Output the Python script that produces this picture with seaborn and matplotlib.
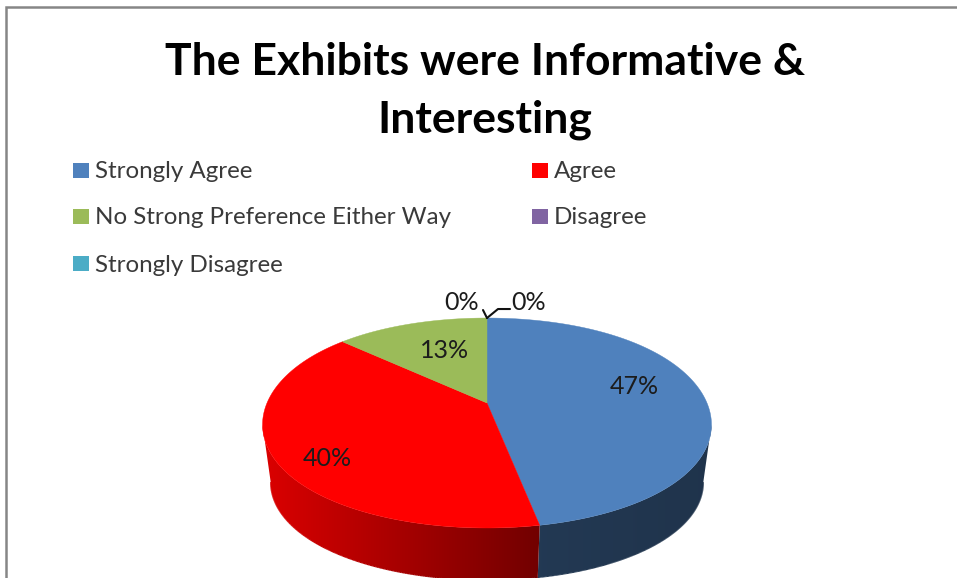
import numpy as np
import matplotlib
matplotlib.use("Agg")
import matplotlib.pyplot as plt
from matplotlib.collections import LineCollection
from matplotlib.patches import Polygon, Rectangle
import seaborn as sns

# Survey responses
categories = ["Strongly Agree", "Agree", "No Strong Preference Either Way",
              "Disagree", "Strongly Disagree"]
percent = [47, 40, 13, 0, 0]
colors = ["#4F81BD", "#FF0000", "#9BBB59", "#8064A2", "#4BACC6"]
title = "The Exhibits were Informative &\nInteresting"

sns.set_theme(style="white")
plt.rcParams["font.family"] = ["Lato", "DejaVu Sans"]
palette = sns.color_palette(colors)

W, H = 957, 578
fig = plt.figure(figsize=(W / 100, H / 100), dpi=100, facecolor="white")
ax = fig.add_axes([0, 0, 1, 1])
ax.set_xlim(0, W)
ax.set_ylim(H, 0)
ax.axis("off")

# Perspective projection of the unit disc onto the page
CX, TILT = 487.0, 0.1905
SPREAD = 0.04


def top_rim(theta):
    u, v = np.sin(theta), np.cos(theta)
    w = 1 + TILT * v
    return CX + 220 * (1 + SPREAD * v * v) * u / w, (403 - 24.4 * v) / w


def bottom_rim(theta):
    u, v = np.sin(theta), np.cos(theta)
    w = 1 + TILT * v
    x = CX + 212 * (1 + SPREAD * v * v) * u / w
    y = (403 - 24.4 * v) / w + 59 + 7 * v
    return x, y


def wall_shade(x):
    return np.interp(x, [263, 543, 711], [0.86, 0.44, 0.40])


# Slice boundaries, clockwise from twelve o'clock
fractions = np.array(percent) / sum(percent)
edges = np.concatenate([[0], np.cumsum(fractions)]) * 2 * np.pi

# The wall is visible only between the two widest points of the rim
probe = np.linspace(0, np.pi, 2000)
side = probe[np.argmax(top_rim(probe)[0])]

# Side wall: horizontal gradient clipped to each slice's outline
page_x = np.arange(W) + 0.5
for start, end, col in zip(edges[:-1], edges[1:], palette):
    a0, a1 = max(start, side), min(end, 2 * np.pi - side)
    if a1 <= a0:
        continue
    t = np.linspace(a0, a1, 240)
    xt, yt = top_rim(t)
    xb, yb = bottom_rim(t)
    outline = np.column_stack([np.r_[xt, xb[::-1]], np.r_[yt, yb[::-1]]])
    grad = np.outer(wall_shade(page_x), col)[np.newaxis, :, :]
    img = ax.imshow(grad, extent=(0, W, H, 0), aspect="auto", zorder=2,
                    interpolation="nearest")
    img.set_clip_path(Polygon(outline, transform=ax.transData))
    # smooth lower edge of the wall
    pts = np.column_stack([xb, yb])
    segs = np.stack([pts[:-1], pts[1:]], axis=1)
    shade = wall_shade((xb[:-1] + xb[1:]) / 2)
    ax.add_collection(LineCollection(segs, colors=[tuple(c * s for c in col) for s in shade],
                                     linewidths=1.0, zorder=2.5))
ax.set_xlim(0, W)
ax.set_ylim(H, 0)

# Top face of each slice
for start, end, col in zip(edges[:-1], edges[1:], palette):
    if end <= start:
        continue
    t = np.linspace(start, end, 200)
    xs, ys = top_rim(t)
    ax.fill(np.r_[CX, xs], np.r_[403, ys], color=col, lw=0.3, zorder=3)

# Value labels
label_xy = [(634, 386), (327, 458), (445, 351), (462, 303), (529, 303)]
for val, (x, y) in zip(percent, label_xy):
    ax.text(x, y, f"{val}%", ha="center", va="center", fontsize=18,
            color="#1c1c1c", zorder=5)

# Leader lines for the empty slices
lx, ly = top_rim(edges[3])
ax.plot([lx - 4, lx], [ly - 8, ly], color="#111111", lw=1.5, zorder=4)
ax.plot([lx, lx + 11, lx + 23], [ly, ly - 9, ly - 9], color="#111111", lw=1.5, zorder=4)

ax.text(485, 91, title, ha="center", va="center", fontsize=32, fontweight="bold",
        color="black", linespacing=1.52)

# Legend laid out in two columns
legend_pos = [(73, 170), (532, 170), (73, 216), (532, 216), (73, 263)]
for name, col, (x, y) in zip(categories, palette, legend_pos):
    ax.add_patch(Rectangle((x, y - 7.5), 16, 15, facecolor=col, edgecolor="none"))
    ax.text(x + 22, y + 2, name, ha="left", va="center", fontsize=17.4, color="#3a3a3a")

# Chart border
ax.plot([6, 6, W + 2], [H + 2, 7, 7], color="#868686", lw=1.8, solid_joinstyle="miter")

fig.savefig("out.png", dpi=100, facecolor="white")
